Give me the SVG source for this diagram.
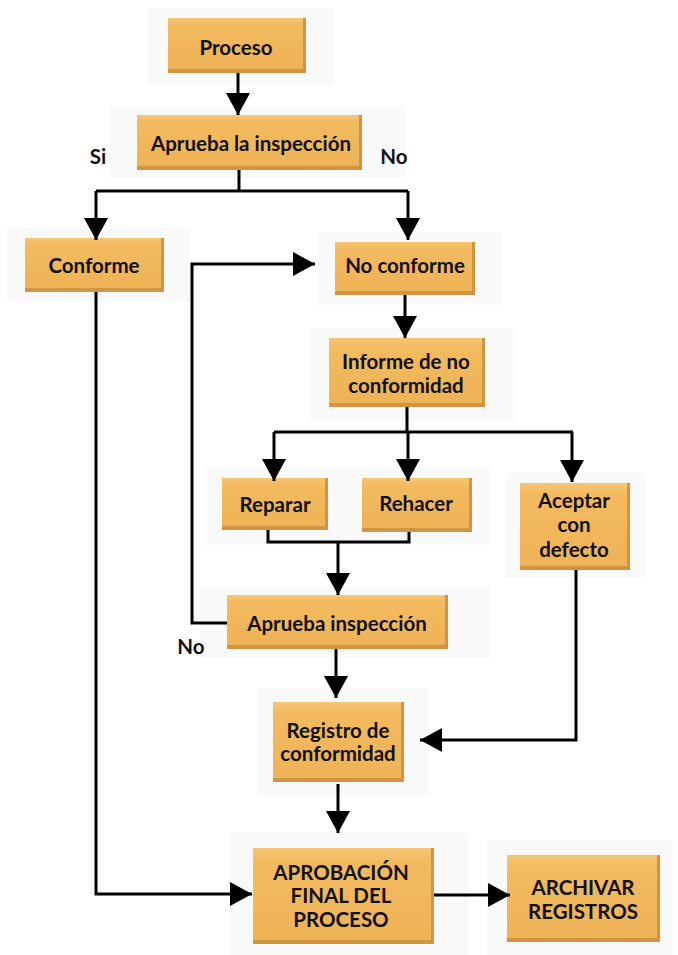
<svg xmlns="http://www.w3.org/2000/svg" width="678" height="955" viewBox="0 0 678 955">
<defs>
<linearGradient id="g" x1="0" y1="0" x2="0" y2="1">
<stop offset="0" stop-color="#f6c675"/>
<stop offset="0.15" stop-color="#f3ba5f"/>
<stop offset="1" stop-color="#efb357"/>
</linearGradient>
<marker id="ah" viewBox="0 0 22 24" refX="22" refY="12" markerWidth="22" markerHeight="24" markerUnits="userSpaceOnUse" orient="auto">
<path d="M0,0 L22,12 L0,24 Z" fill="#000"/>
</marker>
</defs>
<style>
.panel{fill:#f9f9f9}
.edge{fill:#cf9444}
.face{fill:url(#g)}
text{font-family:"Lato","Liberation Sans",sans-serif;font-weight:bold;font-size:20.5px;fill:#111;text-anchor:middle}
.c{fill:none;stroke:#000;stroke-width:3}
</style>
<rect width="678" height="955" fill="#fff"/>

<g id="proceso">
<rect class="panel" x="148" y="8" width="186" height="77"/>
<rect class="edge" x="168" y="18" width="138" height="55"/>
<rect class="face" x="168" y="18" width="135" height="51"/>
<text x="236" y="55">Proceso</text>
</g>

<g id="aprueba1">
<rect class="panel" x="110" y="106" width="295" height="72"/>
<rect class="edge" x="137" y="115" width="225" height="55"/>
<rect class="face" x="137" y="115" width="222" height="51"/>
<text x="251" y="151">Aprueba la inspección</text>
</g>

<g id="conforme">
<rect class="panel" x="7" y="228" width="183" height="74"/>
<rect class="edge" x="25" y="238" width="139" height="54"/>
<rect class="face" x="25" y="238" width="136" height="50"/>
<text x="94" y="273">Conforme</text>
</g>

<g id="noconforme">
<rect class="panel" x="318" y="233" width="184" height="72"/>
<rect class="edge" x="335" y="242" width="140" height="53"/>
<rect class="face" x="335" y="242" width="137" height="49"/>
<text x="405" y="273">No conforme</text>
</g>

<g id="informe">
<rect class="panel" x="310" y="328" width="205" height="92"/>
<rect class="edge" x="329" y="338" width="156" height="69"/>
<rect class="face" x="329" y="338" width="153" height="65"/>
<text x="406" y="369">Informe de no</text>
<text x="406" y="393">conformidad</text>
</g>

<g id="reparar">
<rect class="panel" x="205" y="468" width="285" height="77"/>
<rect class="edge" x="222" y="478" width="106" height="52"/>
<rect class="face" x="222" y="478" width="103" height="48"/>
<text x="275" y="512">Reparar</text>
</g>

<g id="rehacer">
<rect class="edge" x="362" y="478" width="110" height="54"/>
<rect class="face" x="362" y="478" width="107" height="50"/>
<text x="416" y="511">Rehacer</text>
</g>

<g id="aceptar">
<rect class="panel" x="505" y="473" width="140" height="105"/>
<rect class="edge" x="520" y="483" width="110" height="87"/>
<rect class="face" x="520" y="483" width="107" height="83"/>
<text x="574" y="508">Aceptar</text>
<text x="574" y="532">con</text>
<text x="574" y="557">defecto</text>
</g>

<g id="aprueba2">
<rect class="panel" x="200" y="586" width="290" height="72"/>
<rect class="edge" x="227" y="595" width="221" height="54"/>
<rect class="face" x="227" y="595" width="218" height="50"/>
<text x="337" y="631">Aprueba inspección</text>
</g>

<g id="registro">
<rect class="panel" x="257" y="688" width="171" height="107"/>
<rect class="edge" x="273" y="702" width="131" height="80"/>
<rect class="face" x="273" y="702" width="128" height="76"/>
<text x="338" y="738">Registro de</text>
<text x="338" y="761">conformidad</text>
</g>

<g id="aprobacion">
<rect class="panel" x="230" y="833" width="238" height="122"/>
<rect class="edge" x="253" y="848" width="181" height="96"/>
<rect class="face" x="253" y="848" width="178" height="92"/>
<text x="341" y="880">APROBACIÓN</text>
<text x="341" y="903">FINAL DEL</text>
<text x="341" y="927">PROCESO</text>
</g>

<g id="archivar">
<rect class="panel" x="487" y="840" width="188" height="115"/>
<rect class="edge" x="507" y="855" width="153" height="87"/>
<rect class="face" x="507" y="855" width="150" height="83"/>
<text x="583" y="895">ARCHIVAR</text>
<text x="583" y="919">REGISTROS</text>
</g>

<g id="labels">
<text x="98" y="164">Si</text>
<text x="394" y="164">No</text>
<text x="191" y="654">No</text>
</g>

<g id="connectors">
<path class="c" d="M238,73 V115" marker-end="url(#ah)"/>
<path class="c" d="M239,170 V191 M96,191 H408"/>
<path class="c" d="M96,191 V240" marker-end="url(#ah)"/>
<path class="c" d="M408,191 V240" marker-end="url(#ah)"/>
<path class="c" d="M96,292 V894 H252" marker-end="url(#ah)"/>
<path class="c" d="M227,623 H192 V264 H315" marker-end="url(#ah)"/>
<path class="c" d="M405,295 V338" marker-end="url(#ah)"/>
<path class="c" d="M407,407 V432 M274,432 H573"/>
<path class="c" d="M274,432 V481" marker-end="url(#ah)"/>
<path class="c" d="M408,432 V481" marker-end="url(#ah)"/>
<path class="c" d="M572,432 V482" marker-end="url(#ah)"/>
<path class="c" d="M268,530 V542 H409 V532"/>
<path class="c" d="M338,542 V595" marker-end="url(#ah)"/>
<path class="c" d="M336,649 V698" marker-end="url(#ah)"/>
<path class="c" d="M576,570 V740 H420" marker-end="url(#ah)"/>
<path class="c" d="M338,784 V833" marker-end="url(#ah)"/>
<path class="c" d="M434,895 H510" marker-end="url(#ah)"/>
</g>
</svg>
